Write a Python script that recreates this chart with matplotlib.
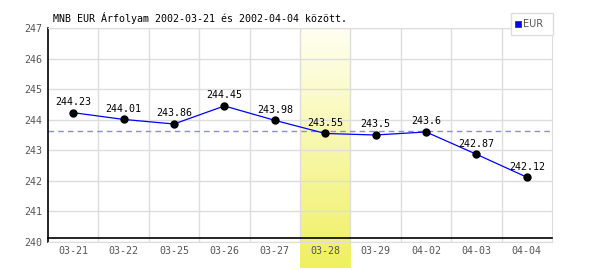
import numpy as np
import matplotlib.pyplot as plt
from matplotlib.patches import Rectangle

dates = ['03-21', '03-22', '03-25', '03-26', '03-27',
         '03-28', '03-29', '04-02', '04-03', '04-04']
rates = [244.23, 244.01, 243.86, 244.45, 243.98,
         243.55, 243.5, 243.6, 242.87, 242.12]
yticks = [240, 241, 242, 243, 244, 245, 246, 247]
highlight = '03-28'
title = 'MNB EUR Árfolyam 2002-03-21 és 2002-04-04 között.'

W, H = 600, 270
fig = plt.figure(figsize=(6, 2.7), dpi=100)
L, R, T, B = 48, 552, 28, 242
ax = fig.add_axes([L / W, 1 - B / H, (R - L) / W, (B - T) / H])

font = 'DejaVu Sans Mono'
x = np.arange(len(dates))
ymin, ymax = yticks[0], yticks[-1]
ppu = (B - T) / (ymax - ymin)

# highlighted day column with gradient, runs below the axis
hi = dates.index(highlight)
ylow = ymin - (268 - B) / ppu
t = np.linspace(0, 1, 200)[:, None]
top = np.array([1.0, 1.0, 0.95])
bot = np.array([0.94, 0.94, 0.38])
grad = (top * (1 - t) + bot * t)[:, None, :]
ax.imshow(grad, extent=[hi - 0.5, hi + 0.5, ylow, ymax], aspect='auto',
          clip_on=False, zorder=0, interpolation='bilinear')

for k in range(1, len(dates)):
    ax.axvline(k - 0.5, color='#dddddd', lw=1, zorder=1)
for v in yticks:
    ax.axhline(v, color='#dddddd', lw=1, zorder=1)

mean = np.mean(rates)
ax.axhline(mean, color='#8888ff', lw=1, ls=(0, (4, 3)), zorder=2)

ax.plot(x, rates, color='#0000ff', lw=0.9, zorder=3)
ax.plot(x, rates, 'o', color='black', ms=5, zorder=4)
for xi, r in zip(x, rates):
    ax.annotate(f'{r:g}', (xi, r), xytext=(0, 4), textcoords='offset points',
                ha='center', va='bottom', fontsize=7.2, family=font,
                color='black', zorder=5)

# black base line a few pixels above the bottom grid line
ax.plot([0, 1], [4 / (B - T)] * 2, color='black', lw=1.2,
        transform=ax.transAxes, clip_on=False, zorder=3)

ax.set_xlim(-0.5, len(dates) - 0.5)
ax.set_ylim(ymin, ymax)
ax.set_xticks(x)
ax.set_xticklabels(dates)
ax.set_yticks(yticks)
ax.tick_params(length=0, labelsize=7.2, labelcolor='#555555')
ax.tick_params(axis='x', pad=3)
ax.tick_params(axis='y', pad=4)
for lab in ax.get_xticklabels() + ax.get_yticklabels():
    lab.set_family(font)

for s in ['top', 'right', 'bottom']:
    ax.spines[s].set_color('#dddddd')
ax.spines['left'].set_color('black')
ax.spines['left'].set_linewidth(1.2)

fig.text(53 / W, 1 - 18 / H, title, fontsize=7.2, family=font,
         ha='left', va='center', color='black')

# legend box
fig.patches.append(Rectangle((511 / W, 1 - 35 / H), 42 / W, 22 / H,
                             transform=fig.transFigure, facecolor='white',
                             edgecolor='#dddddd', lw=1))
fig.patches.append(Rectangle((515 / W, 1 - 27 / H), 6 / W, 6 / H,
                             transform=fig.transFigure, facecolor='#0000ff',
                             edgecolor='#333366', lw=0.6))
fig.text(523 / W, 1 - 24 / H, 'EUR', fontsize=7, family='DejaVu Sans',
         ha='left', va='center', color='#555555')

fig.savefig('out.png', dpi=100)
